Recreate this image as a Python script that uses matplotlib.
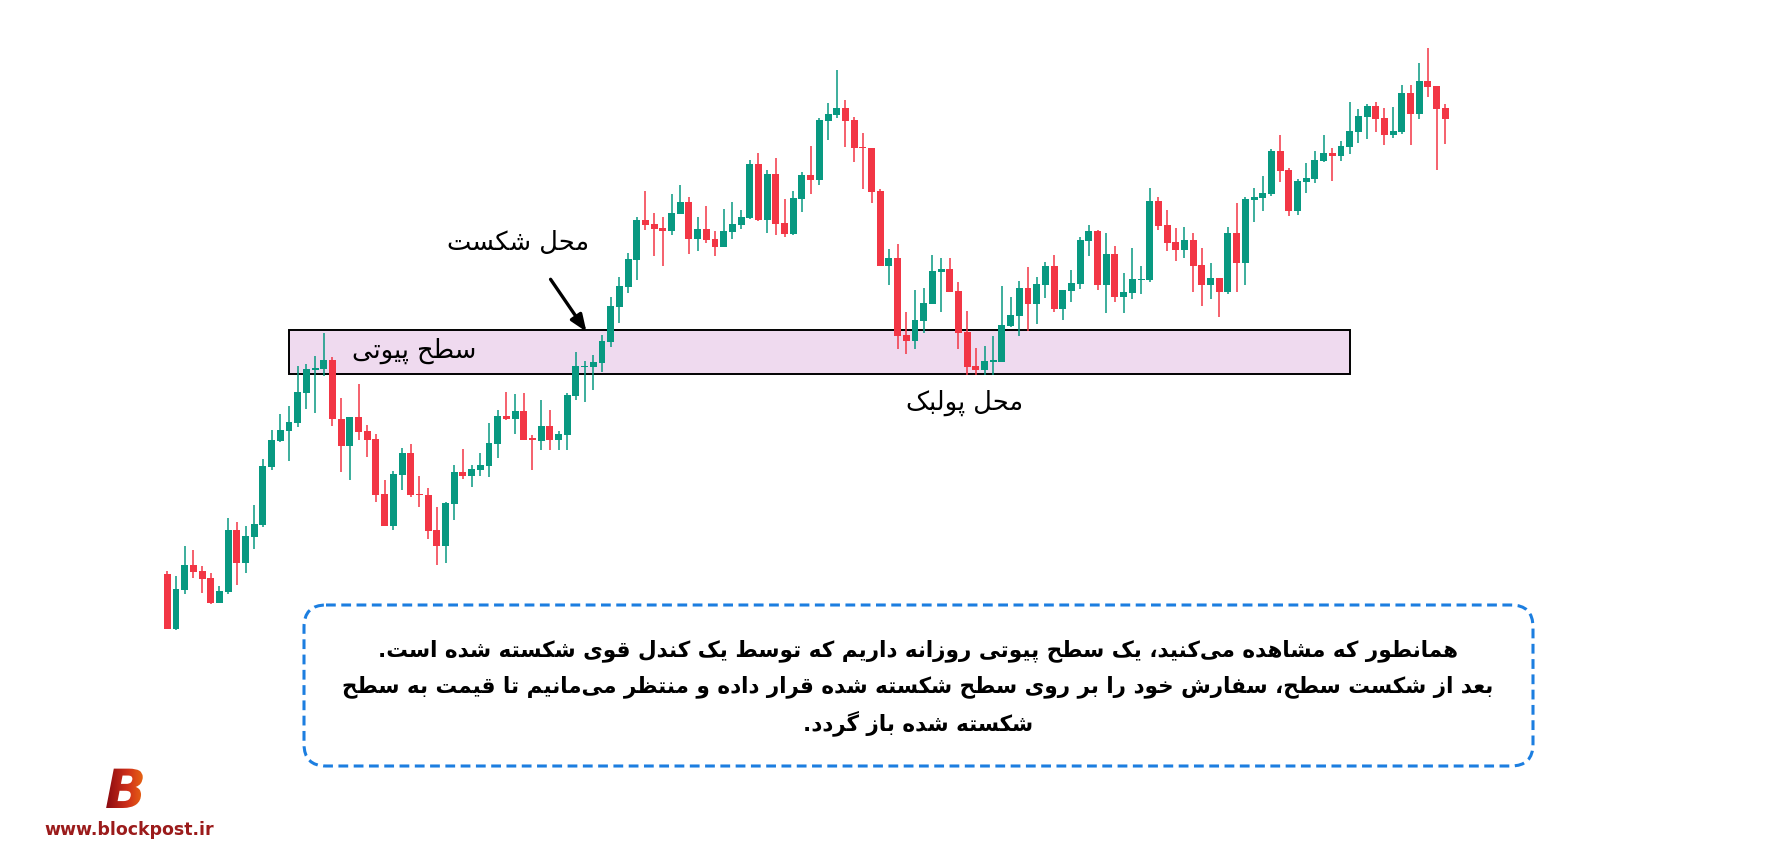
import numpy as np
import matplotlib
matplotlib.use("Agg")
import matplotlib.pyplot as plt
from matplotlib.patches import Rectangle, FancyBboxPatch, PathPatch
from matplotlib.textpath import TextPath
from matplotlib.font_manager import FontProperties
from matplotlib.colors import LinearSegmentedColormap
from matplotlib.transforms import Affine2D

# candle data (price units)
opens = [291, 236, 275, 300, 294, 287, 262, 273, 335, 302,
         328, 340, 398, 424, 434, 442, 472, 495, 496, 505,
         446, 419, 448, 434, 426, 371, 339, 390, 412, 371,
         370, 335, 319, 361, 393, 389, 395, 399, 421, 449,
         446, 454, 427, 424, 439, 425, 430, 469, 498, 498,
         502, 523, 558, 578, 605, 645, 641, 637, 634, 651,
         663, 626, 636, 626, 618, 633, 640, 647, 701, 645,
         691, 642, 631, 666, 690, 685, 744, 750, 757, 745,
         718, 717, 674, 599, 607, 530, 524, 544, 561, 593,
         596, 574, 533, 499, 495, 503, 503, 539, 549, 577,
         561, 580, 599, 556, 574, 581, 624, 634, 580, 611,
         568, 572, 585, 585, 664, 640, 623, 615, 625, 600,
         580, 587, 573, 632, 602, 665, 667, 671, 714, 695,
         654, 683, 686, 704, 712, 709, 718, 733, 748, 759,
         747, 730, 733, 772, 751, 784, 779, 757]
highs = [294, 289, 319, 315, 299, 292, 279, 347, 343, 339,
         360, 406, 435, 451, 459, 499, 501, 509, 532, 508,
         467, 448, 481, 440, 431, 385, 394, 417, 421, 389,
         377, 358, 363, 400, 416, 400, 412, 442, 455, 473,
         471, 472, 430, 465, 455, 434, 472, 513, 504, 510,
         530, 568, 588, 612, 648, 674, 652, 648, 671, 680,
         668, 648, 659, 634, 656, 663, 655, 705, 712, 695,
         707, 666, 674, 693, 719, 747, 762, 795, 765, 748,
         732, 717, 676, 616, 621, 553, 575, 577, 610, 607,
         607, 583, 554, 517, 519, 529, 579, 568, 584, 598,
         588, 603, 610, 575, 595, 628, 640, 635, 632, 619,
         592, 617, 599, 677, 668, 655, 637, 638, 632, 617,
         602, 587, 638, 662, 668, 677, 689, 716, 730, 697,
         686, 702, 714, 730, 717, 724, 763, 756, 761, 763,
         757, 758, 780, 780, 802, 817, 779, 761]
lows = [236, 235, 271, 287, 272, 261, 262, 271, 280, 292,
        316, 338, 395, 423, 404, 438, 456, 452, 489, 439,
        393, 385, 425, 408, 363, 339, 335, 375, 368, 358,
        326, 300, 302, 345, 386, 378, 389, 388, 407, 445,
        431, 425, 395, 415, 415, 415, 415, 465, 463, 475,
        493, 518, 542, 572, 585, 635, 609, 599, 630, 651,
        611, 614, 622, 609, 618, 626, 636, 646, 644, 632,
        630, 628, 630, 653, 671, 680, 725, 747, 718, 703,
        676, 662, 599, 580, 516, 511, 516, 532, 561, 553,
        573, 516, 490, 490, 490, 490, 503, 538, 529, 534,
        541, 567, 553, 545, 563, 576, 609, 575, 552, 563,
        552, 566, 571, 583, 635, 614, 604, 607, 573, 559,
        566, 548, 571, 573, 580, 643, 654, 669, 683, 649,
        650, 672, 682, 703, 684, 704, 711, 722, 726, 733,
        720, 727, 731, 720, 746, 768, 695, 721]
closes = [236, 276, 300, 293, 286, 262, 274, 335, 302, 329,
          341, 399, 425, 435, 443, 473, 496, 497, 505, 446,
          419, 448, 433, 425, 370, 339, 391, 412, 370, 370,
          334, 319, 362, 393, 389, 396, 400, 422, 449, 446,
          454, 425, 425, 439, 425, 431, 470, 499, 499, 503,
          524, 559, 579, 606, 645, 640, 636, 634, 652, 663,
          626, 636, 625, 618, 634, 641, 648, 701, 645, 691,
          641, 631, 667, 690, 685, 745, 751, 757, 744, 717,
          717, 673, 599, 607, 529, 524, 545, 562, 594, 596,
          573, 532, 498, 495, 504, 505, 540, 550, 577, 561,
          581, 599, 556, 575, 582, 625, 634, 580, 611, 568,
          573, 586, 586, 664, 639, 622, 615, 625, 599, 580,
          587, 573, 632, 602, 666, 668, 672, 714, 694, 654,
          684, 687, 705, 712, 709, 719, 734, 749, 759, 746,
          730, 734, 772, 751, 784, 778, 756, 746]

pivot_low, pivot_high = 491, 535
pivot_start, pivot_end = 14, 136

label_break = "محل شکست"
label_pivot = "سطح پیوتی"
label_pullback = "محل پولبک"
note_lines = [
    "همانطور که مشاهده می\u200cکنید، یک سطح پیوتی روزانه داریم که توسط یک کندل قوی شکسته شده است.",
    "بعد از شکست سطح، سفارش خود را بر روی سطح شکسته شده قرار داده و منتظر می\u200cمانیم تا قیمت به سطح",
    "شکسته شده باز گردد.",
]

# simple persian shaping (contextual forms + reverse for RTL)
FORMS = {
    'ا': ('\uFE8D', '\uFE8E', None, None), 'ب': ('\uFE8F', '\uFE90', '\uFE91', '\uFE92'),
    'پ': ('\uFB56', '\uFB57', '\uFB58', '\uFB59'), 'ت': ('\uFE95', '\uFE96', '\uFE97', '\uFE98'),
    'ح': ('\uFEA1', '\uFEA2', '\uFEA3', '\uFEA4'), 'خ': ('\uFEA5', '\uFEA6', '\uFEA7', '\uFEA8'),
    'د': ('\uFEA9', '\uFEAA', None, None), 'ر': ('\uFEAD', '\uFEAE', None, None),
    'ز': ('\uFEAF', '\uFEB0', None, None), 'س': ('\uFEB1', '\uFEB2', '\uFEB3', '\uFEB4'),
    'ش': ('\uFEB5', '\uFEB6', '\uFEB7', '\uFEB8'), 'ط': ('\uFEC1', '\uFEC2', '\uFEC3', '\uFEC4'),
    'ظ': ('\uFEC5', '\uFEC6', '\uFEC7', '\uFEC8'), 'ع': ('\uFEC9', '\uFECA', '\uFECB', '\uFECC'),
    'ف': ('\uFED1', '\uFED2', '\uFED3', '\uFED4'), 'ق': ('\uFED5', '\uFED6', '\uFED7', '\uFED8'),
    'ک': ('\uFB8E', '\uFB8F', '\uFB90', '\uFB91'), 'گ': ('\uFB92', '\uFB93', '\uFB94', '\uFB95'),
    'ل': ('\uFEDD', '\uFEDE', '\uFEDF', '\uFEE0'), 'م': ('\uFEE1', '\uFEE2', '\uFEE3', '\uFEE4'),
    'ن': ('\uFEE5', '\uFEE6', '\uFEE7', '\uFEE8'), 'ه': ('\uFEE9', '\uFEEA', '\uFEEB', '\uFEEC'),
    'و': ('\uFEED', '\uFEEE', None, None), 'ی': ('\uFBFC', '\uFBFD', '\uFBFE', '\uFBFF'),
}


def fa(text):
    out = []
    for i, ch in enumerate(text):
        f = FORMS.get(ch)
        if f is None:
            out.append(ch)
            continue
        prev = text[i - 1] if i > 0 else ''
        nxt = text[i + 1] if i < len(text) - 1 else ''
        jp = prev in FORMS and FORMS[prev][2] is not None
        jn = f[2] is not None and nxt in FORMS
        if jp and jn:
            out.append(f[3])
        elif jp:
            out.append(f[1])
        elif jn:
            out.append(f[2])
        else:
            out.append(f[0])
    return ''.join(out).replace('\u200c', '')[::-1]


W, H = 1790, 865
fig = plt.figure(figsize=(W / 100, H / 100), dpi=100)
fig.patch.set_facecolor('white')

# candle axes
step = 8.694
x0 = 167.3
ax = fig.add_axes([(x0 - step) / W, 0, 149 * step / W, 1])
ax.set_xlim(-1, 148)
ax.set_ylim(0, H)
ax.axis('off')

o = np.array(opens, float)
c = np.array(closes, float)
hi = np.array(highs, float)
lo = np.array(lows, float)
idx = np.arange(len(o))
up = c >= o
cols = np.where(up, '#089981', '#F23645')

ax.add_patch(Rectangle((pivot_start, pivot_low), pivot_end - pivot_start, pivot_high - pivot_low,
                       facecolor='#EFDAEF', edgecolor='black', lw=1.4, zorder=1))
ax.vlines(idx, lo, hi, colors=cols, lw=1.1, zorder=2)
body_h = np.maximum(np.abs(c - o), 1.2)
ax.bar(idx, body_h, bottom=np.minimum(o, c), width=0.8, color=cols, zorder=3)

# overlay axes in pixels
ov = fig.add_axes([0, 0, 1, 1], zorder=5)
ov.set_xlim(0, W)
ov.set_ylim(H, 0)
ov.axis('off')
ov.patch.set_alpha(0)

ov.text(518, 243, fa(label_break), fontsize=18.5, ha='center', va='center', family='DejaVu Sans')
ov.text(414, 351, fa(label_pivot), fontsize=18.5, ha='center', va='center', family='DejaVu Sans')
ov.text(965, 403, fa(label_pullback), fontsize=18.5, ha='center', va='center', family='DejaVu Sans')
ov.annotate('', xy=(588, 334), xytext=(549, 277),
            arrowprops=dict(arrowstyle='-|>,head_length=1.0,head_width=0.4', color='black', lw=2.4))

box = FancyBboxPatch((304, 605), 1229, 161, boxstyle='round,pad=0,rounding_size=22',
                     facecolor='none', edgecolor='#1C7EE0', lw=2.2, linestyle=(0, (3.2, 1.8)))
ov.add_patch(box)
for k, line in enumerate(note_lines):
    ov.text(918, 651 + 36 * k, fa(line), fontsize=15.5, ha='center', va='center',
            family='DejaVu Sans', weight='bold')

# logo
tp = TextPath((0, 0), 'B', size=54, prop=FontProperties(family='DejaVu Sans', weight='bold', style='italic'))
tr = Affine2D().scale(1, -1).translate(105, 808) + ov.transData
pp = PathPatch(tp, transform=tr, facecolor='none', edgecolor='none')
ov.add_patch(pp)
cmap = LinearSegmentedColormap.from_list('logo', ['#8a0a10', '#d0301a', '#f07a10'])
grad = np.linspace(0, 1, 100).reshape(1, -1)
im = ov.imshow(grad, extent=[106, 150, 808, 760], cmap=cmap, aspect='auto')
im.set_clip_path(pp)
ov.set_xlim(0, W)
ov.set_ylim(H, 0)
ov.text(129, 830, 'www.blockpost.ir', fontsize=12.5, weight='bold', color='#9B1B1B',
        ha='center', va='center', family='DejaVu Sans')

fig.savefig('out.png', dpi=100, facecolor='white')
